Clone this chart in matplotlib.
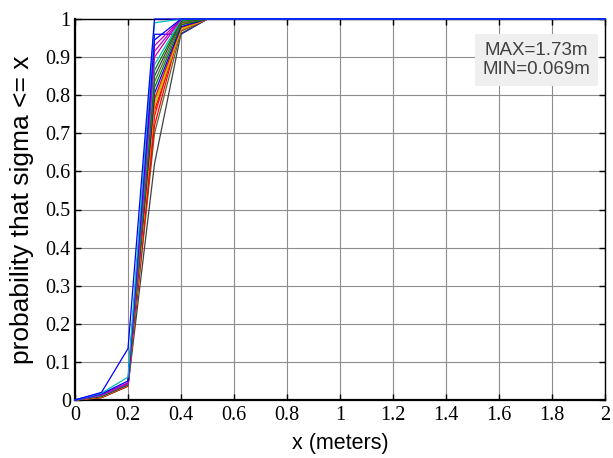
import matplotlib.pyplot as plt

plt.rcParams['font.family'] = 'serif'
plt.rcParams['font.serif'] = ['Liberation Serif', 'DejaVu Serif']

# sample points (meters) and the CDF curves
x = [0.0, 0.1, 0.2, 0.3, 0.4, 0.5, 2.0]

curves = [
    [0.0, 0.020, 0.135, 1.000, 1.000, 1.0, 1.0],
    [0.0, 0.018, 0.060, 0.990, 1.000, 1.0, 1.0],
    [0.0, 0.016, 0.050, 0.945, 1.000, 1.0, 1.0],
    [0.0, 0.015, 0.045, 0.930, 1.000, 1.0, 1.0],
    [0.0, 0.014, 0.044, 0.915, 1.000, 1.0, 1.0],
    [0.0, 0.013, 0.043, 0.900, 1.000, 1.0, 1.0],
    [0.0, 0.012, 0.043, 0.880, 0.998, 1.0, 1.0],
    [0.0, 0.012, 0.042, 0.865, 0.996, 1.0, 1.0],
    [0.0, 0.011, 0.042, 0.850, 0.994, 1.0, 1.0],
    [0.0, 0.011, 0.041, 0.835, 0.990, 1.0, 1.0],
    [0.0, 0.010, 0.041, 0.820, 0.985, 1.0, 1.0],
    [0.0, 0.010, 0.040, 0.805, 0.980, 1.0, 1.0],
    [0.0, 0.009, 0.040, 0.790, 0.978, 1.0, 1.0],
    [0.0, 0.009, 0.039, 0.780, 0.975, 1.0, 1.0],
    [0.0, 0.008, 0.039, 0.770, 0.972, 1.0, 1.0],
    [0.0, 0.008, 0.038, 0.760, 0.970, 1.0, 1.0],
    [0.0, 0.007, 0.038, 0.745, 0.990, 1.0, 1.0],
    [0.0, 0.007, 0.037, 0.720, 0.985, 1.0, 1.0],
    [0.0, 0.006, 0.037, 0.700, 0.968, 1.0, 1.0],
    [0.0, 0.006, 0.036, 0.620, 0.962, 1.0, 1.0],
    [0.0, 0.018, 0.040, 0.960, 0.960, 1.0, 1.0],
]

# colour of each curve (old MATLAB palette)
curve_colors = [
    '#0000ff', '#00bfbf', '#0000ff', '#bf00bf', '#bf00bf', '#bf00bf', '#00bfbf',
    '#008000', '#404040', '#556b2f', '#008000', '#0000ff', '#ff0000', '#bfbf00',
    '#bfbf00', '#ff0000', '#ff0000', '#ff0000', '#556b2f', '#404040', '#0000ff',
]

xticks = [0, 0.2, 0.4, 0.6, 0.8, 1, 1.2, 1.4, 1.6, 1.8, 2]
xticklabels = ['0', '0.2', '0.4', '0.6', '0.8', '1', '1.2', '1.4', '1.6', '1.8', '2']
yticks = [0, 0.1, 0.2, 0.3, 0.4, 0.5, 0.6, 0.7, 0.8, 0.9, 1]
yticklabels = ['0', '0.1', '0.2', '0.3', '0.4', '0.5', '0.6', '0.7', '0.8', '0.9', '1']

fig = plt.figure(figsize=(6.13, 4.58), dpi=100)
ax = fig.add_axes([75 / 613, 58 / 458, 530 / 613, 381 / 458])

# draw in reverse so the blue curve ends on top like the original
for i in reversed(range(len(curves))):
    ax.plot(x, curves[i], color=curve_colors[i], lw=0.9, clip_on=False, zorder=3)

ax.set_xlim(0, 2)
ax.set_ylim(0, 1)
ax.set_xticks(xticks)
ax.set_xticklabels(xticklabels, fontsize=14.5)
ax.set_yticks(yticks)
ax.set_yticklabels(yticklabels, fontsize=14.5)
ax.tick_params(direction='in', top=True, right=True, length=4, width=1, pad=4)
ax.tick_params(axis='y', pad=3)
ax.grid(True, color='#8c8c8c', lw=0.8)
for side in ['left', 'bottom']:
    ax.spines[side].set_linewidth(1.6)
for side in ['top', 'right']:
    ax.spines[side].set_linewidth(1.0)

ax.set_xlabel('x (meters)', family='Liberation Sans', fontsize=15.5, labelpad=6)
ax.set_ylabel('probability that sigma <= x', family='Liberation Sans', fontsize=19, labelpad=8)

ax.text(0.871, 0.94, 'MAX=1.73m\nMIN=0.069m', transform=ax.transAxes,
        ha='center', va='top', family='Liberation Sans', fontsize=13.5, color='#404040',
        linespacing=1.2, zorder=5,
        bbox=dict(facecolor='#efefef', edgecolor='none', boxstyle='square,pad=0.4'))

fig.savefig('out.png', dpi=100)
